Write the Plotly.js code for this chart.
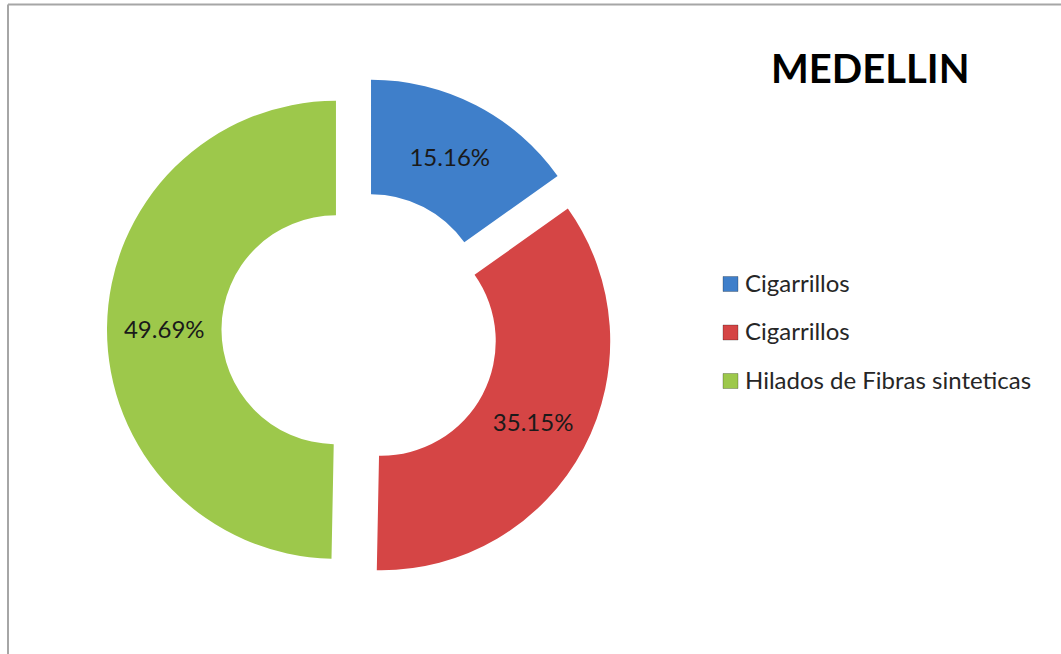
<!DOCTYPE html>
<html>
<head>
<meta charset="utf-8">
<script src="https://cdn.plot.ly/plotly-3.0.1.min.js"></script>
<style>
  html, body { margin: 0; padding: 0; background: #ffffff; }
  #chart { width: 1061px; height: 654px; }
</style>
</head>
<body>
<div id="chart"></div>
<script>
// ---- data ----
const chartTitle = 'MEDELLIN';
const categories = ['Cigarrillos', 'Cigarrillos', 'Hilados de Fibras sinteticas'];
const shares = [15.16, 35.15, 49.69];
const sliceColors = ['#3f7fca', '#d54545', '#9dc84b'];

// ---- layout helpers ----
const W = 1061, H = 654;
const px = x => x / W;
const py = y => 1 - y / H;

const legendX = 723, legendY0 = 284, legendGap = 48.5, boxSize = 15;

const shapes = [
  // chart frame (top and left edges visible)
  {type: 'line', xref: 'paper', yref: 'paper', x0: px(8), x1: px(1061), y0: py(4.5), y1: py(4.5),
   line: {color: '#a6a6a6', width: 2}},
  {type: 'line', xref: 'paper', yref: 'paper', x0: px(8), x1: px(8), y0: py(4.5), y1: py(654),
   line: {color: '#a6a6a6', width: 2}}
];
const annotations = [
  {text: '<b>' + chartTitle + '</b>', xref: 'paper', yref: 'paper', x: px(870), y: py(68),
   xanchor: 'center', yanchor: 'middle', showarrow: false,
   font: {family: 'Lato, sans-serif', size: 40, color: '#000000'}}
];
categories.forEach((c, i) => {
  const cy = legendY0 + i * legendGap;
  shapes.push({type: 'rect', xref: 'paper', yref: 'paper',
    x0: px(legendX), x1: px(legendX + boxSize), y0: py(cy - boxSize / 2), y1: py(cy + boxSize / 2),
    fillcolor: sliceColors[i], line: {color: 'rgba(0,0,0,0.25)', width: 1}});
  annotations.push({text: c, xref: 'paper', yref: 'paper', x: px(legendX + boxSize + 5), y: py(cy - 2),
    xanchor: 'left', yanchor: 'middle', showarrow: false,
    font: {family: 'Lato, sans-serif', size: 24, color: '#262626'}});
});

const trace = {
  type: 'pie',
  values: shares,
  labels: categories.map((c, i) => String(i)),
  hovertext: categories,
  hoverinfo: 'text+percent',
  sort: false,
  direction: 'clockwise',
  rotation: 0,
  hole: 0.5,
  pull: shares.map(() => 0.105),
  marker: {colors: sliceColors, line: {width: 0}},
  texttemplate: '%{percent:.2%}',
  textposition: 'inside',
  insidetextorientation: 'horizontal',
  textfont: {family: 'Lato, sans-serif', size: 24, color: '#1a1a1a'},
  showlegend: false,
  domain: {x: [px(107), px(613)], y: [py(583), py(77)]}
};

const layout = {
  width: W, height: H,
  margin: {l: 0, r: 0, t: 0, b: 0},
  paper_bgcolor: '#ffffff',
  showlegend: false,
  shapes: shapes,
  annotations: annotations
};

Plotly.newPlot('chart', [trace], layout, {displayModeBar: false, staticPlot: true});
</script>
</body>
</html>
